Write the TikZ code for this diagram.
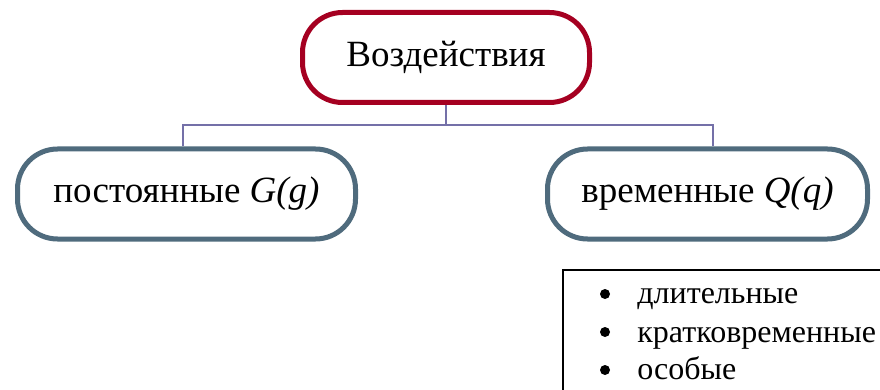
\documentclass[tikz,border=0pt]{standalone}
\usepackage{fontspec}
\setmainfont{Liberation Serif}
\definecolor{topred}{HTML}{A50021}
\definecolor{kindblue}{HTML}{4F6B7D}
\definecolor{linkviolet}{HTML}{7470A8}

\begin{document}
\begin{tikzpicture}[x=1pt, y=1pt, thick,
    group/.style={draw, line width=5pt, rounded corners=40pt, fill=white,
        minimum height=90pt, font=\fontsize{37}{42}\selectfont},
    link/.style={draw=linkviolet, line width=1.5pt},
    item/.style={anchor=base west, inner sep=0pt, font=\fontsize{32}{36}\selectfont}]
    \clip (0,0) rectangle (880,-390);
    % the three groups
    \node[group, draw=topred, minimum width=287pt] (loads) at (446,-57.5) {Воздействия};
    \node[group, draw=kindblue, minimum width=338pt] (perm) at (186.5,-194) {постоянные \textit{G(g)}};
    \node[group, draw=kindblue, minimum width=320pt] (temp) at (707.5,-194) {временные \textit{Q(q)}};
    % connectors
    \coordinate (fork) at (446,-125);
    \path[link] (loads.south) -- (fork);
    \path[link] ([xshift=-3.5pt]perm.north) |- (fork) -| ([xshift=5.5pt]temp.north);
    % kinds of temporary loads
    \draw[line width=1.5pt] (563,-270) rectangle (900,-410);
    \node[item] (long) at (637,-303) {длительные};
    \node[item] (short) at (637,-342) {кратковременные};
    \node[item] (special) at (637,-379) {особые};
    \fill ([shift={(-32pt,9pt)}]long.base west) circle (5pt);
    \fill ([shift={(-32pt,10pt)}]short.base west) circle (5pt);
    \fill ([shift={(-32pt,9pt)}]special.base west) circle (5pt);
\end{tikzpicture}
\end{document}
